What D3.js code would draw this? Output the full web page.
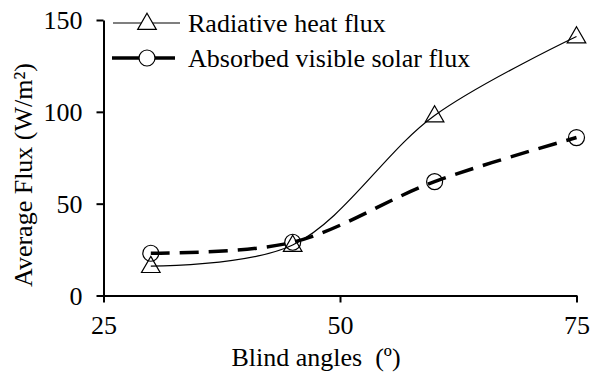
<!DOCTYPE html>
<html>
<head>
<meta charset="utf-8">
<script src="https://cdn.jsdelivr.net/npm/d3@7"></script>
<style>
  html, body { margin: 0; padding: 0; background: #fff; }
  svg { display: block; }
  svg text { font-family: "Times New Roman", Times, "Liberation Serif", "DejaVu Serif", serif; fill: #000; }
</style>
</head>
<body>
<svg id="chart" width="590" height="378"></svg>
<script>
// Blind angle (degrees) for each measurement
const angles = [30, 45, 60, 75];
// Radiative heat flux (W/m²)
const radiative = [16, 27.5, 98, 141];
// Absorbed visible solar flux (W/m²)
const absorbed = [23, 29, 62, 86];
// Axis ticks
const xTicks = [25, 50, 75];
const yTicks = [0, 50, 100, 150];
const seriesNames = ["Radiative heat flux", "Absorbed visible solar flux"];

const FONT = '"Times New Roman", Times, "Liberation Serif", "DejaVu Serif", serif';

const svg = d3.select("#chart");
const plotLeft = 103.5, plotRight = 576.5, plotTop = 20, plotBottom = 295.5;

const x = d3.scaleLinear().domain([25, 75]).range([plotLeft, plotRight]);
const y = d3.scaleLinear().domain([0, 150]).range([plotBottom, plotTop]);

// Axes
const xAxis = d3.axisBottom(x).tickValues(xTicks).tickSize(7).tickSizeOuter(0).tickPadding(13);
const yAxis = d3.axisLeft(y).tickValues(yTicks).tickSize(7).tickSizeOuter(0).tickPadding(14);

const gx = svg.append("g").attr("transform", `translate(0,${plotBottom})`).call(xAxis);
const gy = svg.append("g").attr("transform", `translate(${plotLeft},0)`).call(yAxis);

[gx, gy].forEach(g => {
  g.attr("font-family", FONT).attr("font-size", 26);
  g.select(".domain").attr("stroke", "#000").attr("stroke-width", 2);
  g.selectAll(".tick line").attr("stroke", "#000").attr("stroke-width", 2);
});
gy.selectAll(".tick text").attr("dy", "0.34em");

// Axis titles
svg.append("text")
  .attr("x", 316).attr("y", 366)
  .attr("text-anchor", "middle")
  .attr("font-family", FONT)
  .attr("font-size", 26)
  .attr("xml:space", "preserve")
  .text("Blind angles  (º)");

svg.append("text")
  .attr("transform", "translate(32,175) rotate(-90)")
  .attr("text-anchor", "middle")
  .attr("font-family", FONT)
  .attr("font-size", 26)
  .text("Average Flux (W/m²)");

// Series lines
const curve = d3.curveCatmullRom.alpha(0.5);
const line = d3.line().x(d => x(d[0])).y(d => y(d[1])).curve(curve);

const radData = angles.map((a, i) => [a, radiative[i]]);
const absData = angles.map((a, i) => [a, absorbed[i]]);

svg.append("path").datum(radData)
  .attr("d", line).attr("fill", "none")
  .attr("stroke", "#000").attr("stroke-width", 1.2);

svg.append("path").datum(absData)
  .attr("d", line).attr("fill", "none")
  .attr("stroke", "#000").attr("stroke-width", 3.5)
  .attr("stroke-dasharray", "19,10");

// Markers
const tri = d3.symbol().type(d3.symbolTriangle).size(150);

svg.append("g").selectAll("circle").data(absData).join("circle")
  .attr("cx", d => x(d[0])).attr("cy", d => y(d[1])).attr("r", 8)
  .attr("fill", "none").attr("stroke", "#000").attr("stroke-width", 1.2);

svg.append("g").selectAll("path").data(radData).join("path")
  .attr("d", tri)
  .attr("transform", d => `translate(${x(d[0])},${y(d[1]) + 1})`)
  .attr("fill", "none").attr("stroke", "#000").attr("stroke-width", 1.2);

// Legend
const lg = svg.append("g").attr("font-family", FONT).attr("font-size", 26);
lg.append("line").attr("x1", 113).attr("x2", 180).attr("y1", 23).attr("y2", 23)
  .attr("stroke", "#000").attr("stroke-width", 1.2);
lg.append("path").attr("d", tri).attr("transform", "translate(147,24)")
  .attr("fill", "#fff").attr("stroke", "#000").attr("stroke-width", 1.2);
lg.append("text").attr("x", 188).attr("y", 32).text(seriesNames[0]);

lg.append("line").attr("x1", 112).attr("x2", 175).attr("y1", 58).attr("y2", 58)
  .attr("stroke", "#000").attr("stroke-width", 3.5);
lg.append("circle").attr("cx", 147).attr("cy", 58).attr("r", 8)
  .attr("fill", "#fff").attr("stroke", "#000").attr("stroke-width", 1.2);
lg.append("text").attr("x", 188).attr("y", 67).text(seriesNames[1]);
</script>
</body>
</html>
